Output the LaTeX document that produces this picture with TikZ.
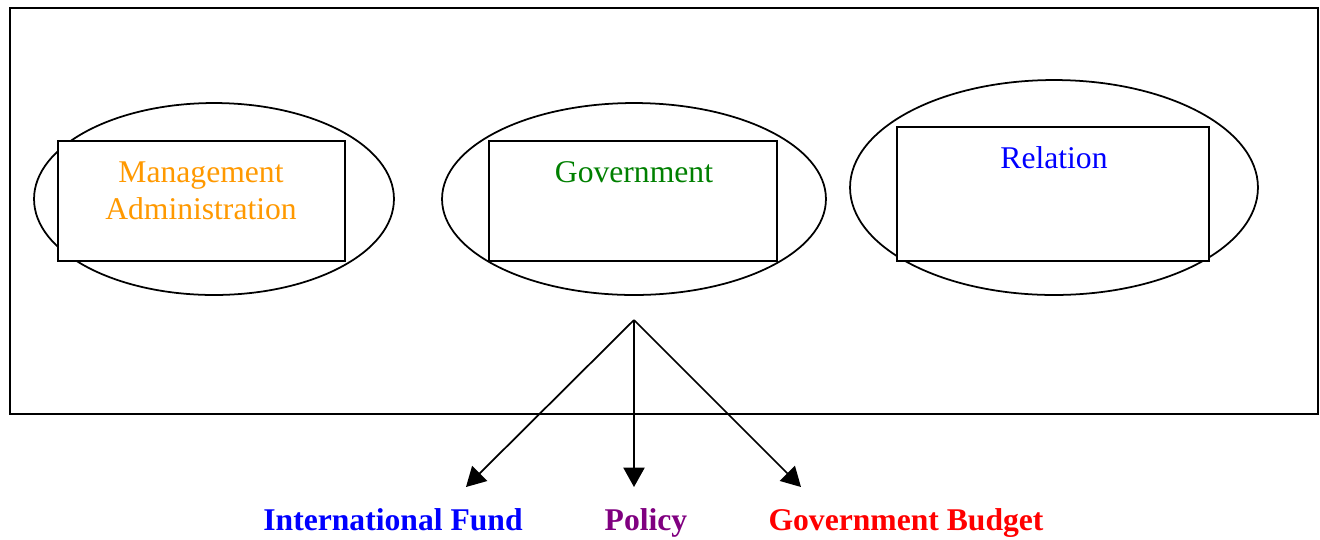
\documentclass[tikz,border=0pt]{standalone}
\usepackage{fontspec}
\setmainfont{Liberation Serif}
\usetikzlibrary{arrows.meta,shapes.geometric}
\definecolor{mgmtorange}{RGB}{255,153,0}
\definecolor{govgreen}{RGB}{0,128,0}
\definecolor{relblue}{RGB}{0,0,255}
\definecolor{polpurple}{RGB}{128,0,128}
\definecolor{budgetred}{RGB}{255,0,0}

\begin{document}
\begin{tikzpicture}[x=0.02cm,y=-0.02cm,>={Triangle[length=11pt,width=12pt]},line width=1pt,
  oval/.style={draw,ellipse,inner sep=0pt},
  box/.style={draw,rectangle,inner sep=0pt,fill=white},
  lbl/.style={font=\fontsize{18}{21}\selectfont,anchor=base,align=center},
  outlbl/.style={font=\fontsize{18}{21}\selectfont\bfseries,anchor=base}]
  \useasboundingbox (0,0) rectangle (1320,539);
  \node[draw,rectangle,inner sep=0pt,minimum width=26.16cm,minimum height=8.12cm] (frame) at (664,211) {};

  % ovals with their boxes
  \node[oval,minimum width=7.2cm,minimum height=3.84cm]  (mgmtoval) at (214,199) {};
  \node[box,minimum width=5.74cm,minimum height=2.4cm]   (mgmtbox)  at (201.5,201) {};
  \node[oval,minimum width=7.68cm,minimum height=3.84cm] (govoval)  at (634,199) {};
  \node[box,minimum width=5.76cm,minimum height=2.4cm]   (govbox)   at (633,201) {};
  \node[oval,minimum width=8.16cm,minimum height=4.3cm]  (reloval)  at (1054,187.5) {};
  \node[box,minimum width=6.24cm,minimum height=2.68cm]  (relbox)   at (1053,194) {};

  \node[lbl,text=mgmtorange] (mgmt) at (201,219) {Management\\Administration};
  \node[lbl,text=govgreen]   (gov)  at (634,182) {Government};
  \node[lbl,text=relblue]    (rel)  at (1054,168) {Relation};

  % branches
  \coordinate (apex)   at (634,320);
  \coordinate (fundtip) at (466,487);
  \coordinate (poltip)  at (634,487);
  \coordinate (budtip)  at (801,487);
  \node[outlbl,text=relblue]   (fund)   at (393,530) {International Fund};
  \node[outlbl,text=polpurple] (policy) at (646,530) {Policy};
  \node[outlbl,text=budgetred] (budget) at (906,530) {Government Budget};

  \path[->] (apex) edge (fundtip)
                   edge (poltip)
                   edge (budtip);
\end{tikzpicture}
\end{document}
